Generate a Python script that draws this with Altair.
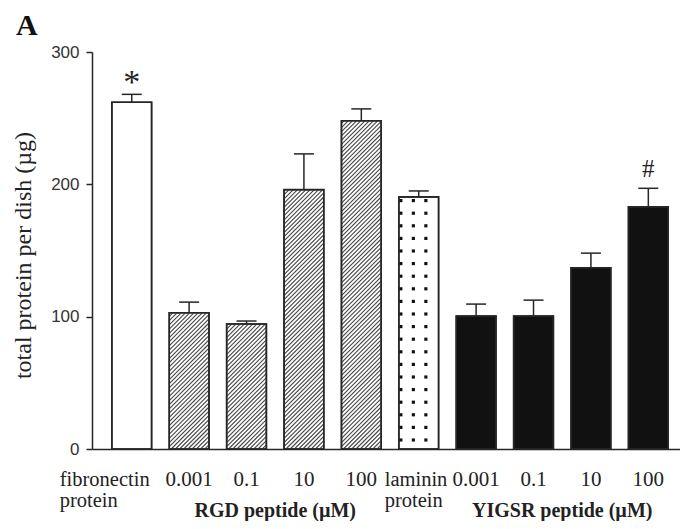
import altair as alt
import pandas as pd

# ---------------- data ----------------
categories = ["fibronectin\nprotein", "0.001", "0.1", "10", "100",
              "laminin\nprotein", "0.001", "0.1", "10", "100"]
means = [262, 103, 94.5, 196, 248, 190.5, 100.5, 100.5, 137, 183]
errors = [6, 8, 2.2, 27, 9, 4.5, 9, 12, 11, 14]
fill_kind = ["open", "hatch", "hatch", "hatch", "hatch",
             "dots", "solid", "solid", "solid", "solid"]
marks = ["*", "", "", "", "", "", "", "", "", "#"]
group_names = ["RGD peptide (µM)", "YIGSR peptide (µM)"]
group_members = [[1, 2, 3, 4], [6, 7, 8, 9]]
y_ticks = [0, 100, 200, 300]

# ---------------- layout ----------------
W, H = 588, 397                # plot area (svg must stay <= 672 px wide)
STEP = 57.4                    # px per category slot
YMAX = 300
PI, PO = 0.308, 0.346          # inner / outer padding in step units
n = len(categories)
U = W / STEP                   # x domain length in step units
kx = STEP                      # px per x unit
ky = H / YMAX                  # px per y unit
BW = 1 - PI                    # bar width in step units

INK = "#262626"
TXT = "#222222"
SERIF = "Liberation Serif"
SANS = "Liberation Sans"

rows = []
for i in range(n):
    x0 = PO + i
    rows.append(dict(i=i, label=categories[i], mean=means[i], err=errors[i],
                     top=means[i] + errors[i], kind=fill_kind[i], mark=marks[i],
                     x0=x0, x1=x0 + BW, xc=x0 + BW / 2,
                     c0=x0 + BW / 2 - 10 / kx, c1=x0 + BW / 2 + 10 / kx))
bars = pd.DataFrame(rows)

# hatch segments ("/" lines) clipped to each hatched bar, computed in px then mapped to data units
SP = 4.2
hatch = []
for r in rows:
    if r["kind"] != "hatch":
        continue
    X0, X1 = r["x0"] * kx, r["x1"] * kx
    Hb = r["mean"] * ky
    c = -(X1 - X0)
    while c < Hb:
        xa = max(X0, X0 - c)
        xb = min(X1, X0 - c + Hb)
        if xb > xa:
            hatch.append(dict(hx=xa / kx, hx2=xb / kx,
                              hy=(xa - X0 + c) / ky, hy2=(xb - X0 + c) / ky))
        c += SP
hatch = pd.DataFrame(hatch)

# dot pattern for laminin bar
dots = []
for r in rows:
    if r["kind"] != "dots":
        continue
    X0 = r["x0"] * kx
    Hb = r["mean"] * ky
    for off in (2, 14.5, 27):
        yy = 9.0
        while yy < Hb - 1:
            dots.append(dict(dx_=(X0 + off) / kx, dy_=yy / ky))
            yy += 12.6
dots = pd.DataFrame(dots)

groups = pd.DataFrame([dict(g=group_names[k],
                            gx=sum(bars.loc[m, "xc"]) / len(m))
                       for k, m in enumerate(group_members)])

xs = alt.Scale(domain=[0, U], nice=False, zero=False)
ys = alt.Scale(domain=[0, YMAX], nice=False)

fill_scale = alt.Scale(domain=["open", "hatch", "dots", "solid"],
                       range=["#ffffff", "#ffffff", "#ffffff", "#111111"])

base = alt.Chart(bars)

bar_fill = base.mark_rect(stroke=INK, strokeWidth=1.5).encode(
    x=alt.X("x0:Q", scale=xs,
            axis=alt.Axis(labels=False, ticks=False, title=None, grid=False,
                          domainColor=INK, domainWidth=1.5)),
    x2="x1:Q",
    y=alt.Y("mean:Q", scale=ys,
            axis=alt.Axis(values=y_ticks, title="total protein per dish (µg)",
                          grid=False, tickSize=6, tickWidth=1.5, tickColor=INK,
                          domainColor=INK, domainWidth=1.5,
                          labelFont=SANS, labelFontSize=17, labelColor="#333333",
                          labelPadding=7,
                          titleFont=SERIF, titleFontSize=24, titleFontWeight="normal",
                          titleColor=TXT, titleAngle=-90,
                          titleX=-62, titleY=203, titleAlign="center",
                          titleBaseline="alphabetic")),
    y2=alt.Y2(datum=0),
    fill=alt.Fill("kind:N", scale=fill_scale, legend=None),
)

hatch_layer = alt.Chart(hatch).mark_rule(color="#444444", strokeWidth=1.1).encode(
    x=alt.X("hx:Q", scale=xs), x2="hx2:Q",
    y=alt.Y("hy:Q", scale=ys), y2="hy2:Q",
)

dot_layer = alt.Chart(dots).mark_square(size=10, color="#111111", opacity=1).encode(
    x=alt.X("dx_:Q", scale=xs), y=alt.Y("dy_:Q", scale=ys),
)

outline = base.mark_rect(stroke=INK, strokeWidth=1.6, fillOpacity=0, fill="#ffffff").encode(
    x=alt.X("x0:Q", scale=xs), x2="x1:Q",
    y=alt.Y("mean:Q", scale=ys), y2=alt.Y2(datum=0),
)

err_stem = base.mark_rule(color=INK, strokeWidth=1.5).encode(
    x=alt.X("xc:Q", scale=xs),
    y=alt.Y("mean:Q", scale=ys), y2="top:Q",
)
err_cap = base.mark_rule(color=INK, strokeWidth=1.5).encode(
    x=alt.X("c0:Q", scale=xs), x2="c1:Q",
    y=alt.Y("top:Q", scale=ys),
)

star = base.transform_filter("datum.mark == '*'").mark_text(
    font=SERIF, fontSize=34, color=TXT, baseline="alphabetic", dy=-1
).encode(
    x=alt.X("xc:Q", scale=xs), y=alt.Y("top:Q", scale=ys), text="mark:N",
)

hash_ = base.transform_filter("datum.mark == '#'").mark_text(
    font=SERIF, fontSize=25, color=TXT, baseline="alphabetic", dy=-11
).encode(
    x=alt.X("xc:Q", scale=xs), y=alt.Y("top:Q", scale=ys), text="mark:N",
)

LAB_Y = H + 37

conc_labels = base.transform_filter("indexof(datum.label, 'protein') < 0").mark_text(
    font=SERIF, fontSize=21, color=TXT, align="center", baseline="alphabetic"
).encode(
    x=alt.X("xc:Q", scale=xs), y=alt.value(LAB_Y), text="label:N",
)

fib_label = base.transform_filter("datum.i == 0").mark_text(
    font=SERIF, fontSize=20.5, color=TXT, align="left", baseline="alphabetic",
    lineBreak="\n", lineHeight=21, dx=-72
).encode(
    x=alt.X("xc:Q", scale=xs), y=alt.value(LAB_Y), text="label:N",
)

lam_label = base.transform_filter("datum.i == 5").mark_text(
    font=SERIF, fontSize=20.5, color=TXT, align="left", baseline="alphabetic",
    lineBreak="\n", lineHeight=21, dx=-34
).encode(
    x=alt.X("xc:Q", scale=xs), y=alt.value(LAB_Y), text="label:N",
)

group_labels = alt.Chart(groups).mark_text(
    font=SERIF, fontSize=20, fontWeight="bold", color=TXT,
    align="center", baseline="alphabetic"
).encode(
    x=alt.X("gx:Q", scale=xs), y=alt.value(H + 68), text="g:N",
)

panel = alt.Chart(pd.DataFrame({"t": ["A"]})).mark_text(
    font=SERIF, fontSize=30, fontWeight="bold", color="#111111",
    align="left", baseline="alphabetic"
).encode(x=alt.value(-76), y=alt.value(-17), text="t:N")

chart = alt.layer(
    bar_fill, hatch_layer, dot_layer, outline, err_stem, err_cap, star, hash_,
    conc_labels, fib_label, lam_label, group_labels, panel
).properties(
    width=W, height=H,
    autosize=alt.AutoSizeParams(type="none"),
    padding={"left": 84, "top": 44, "right": 0, "bottom": 72},
    background="#ffffff",
).configure_view(stroke=None)

chart.save("out.html", embed_options={"renderer": "svg", "actions": False})
